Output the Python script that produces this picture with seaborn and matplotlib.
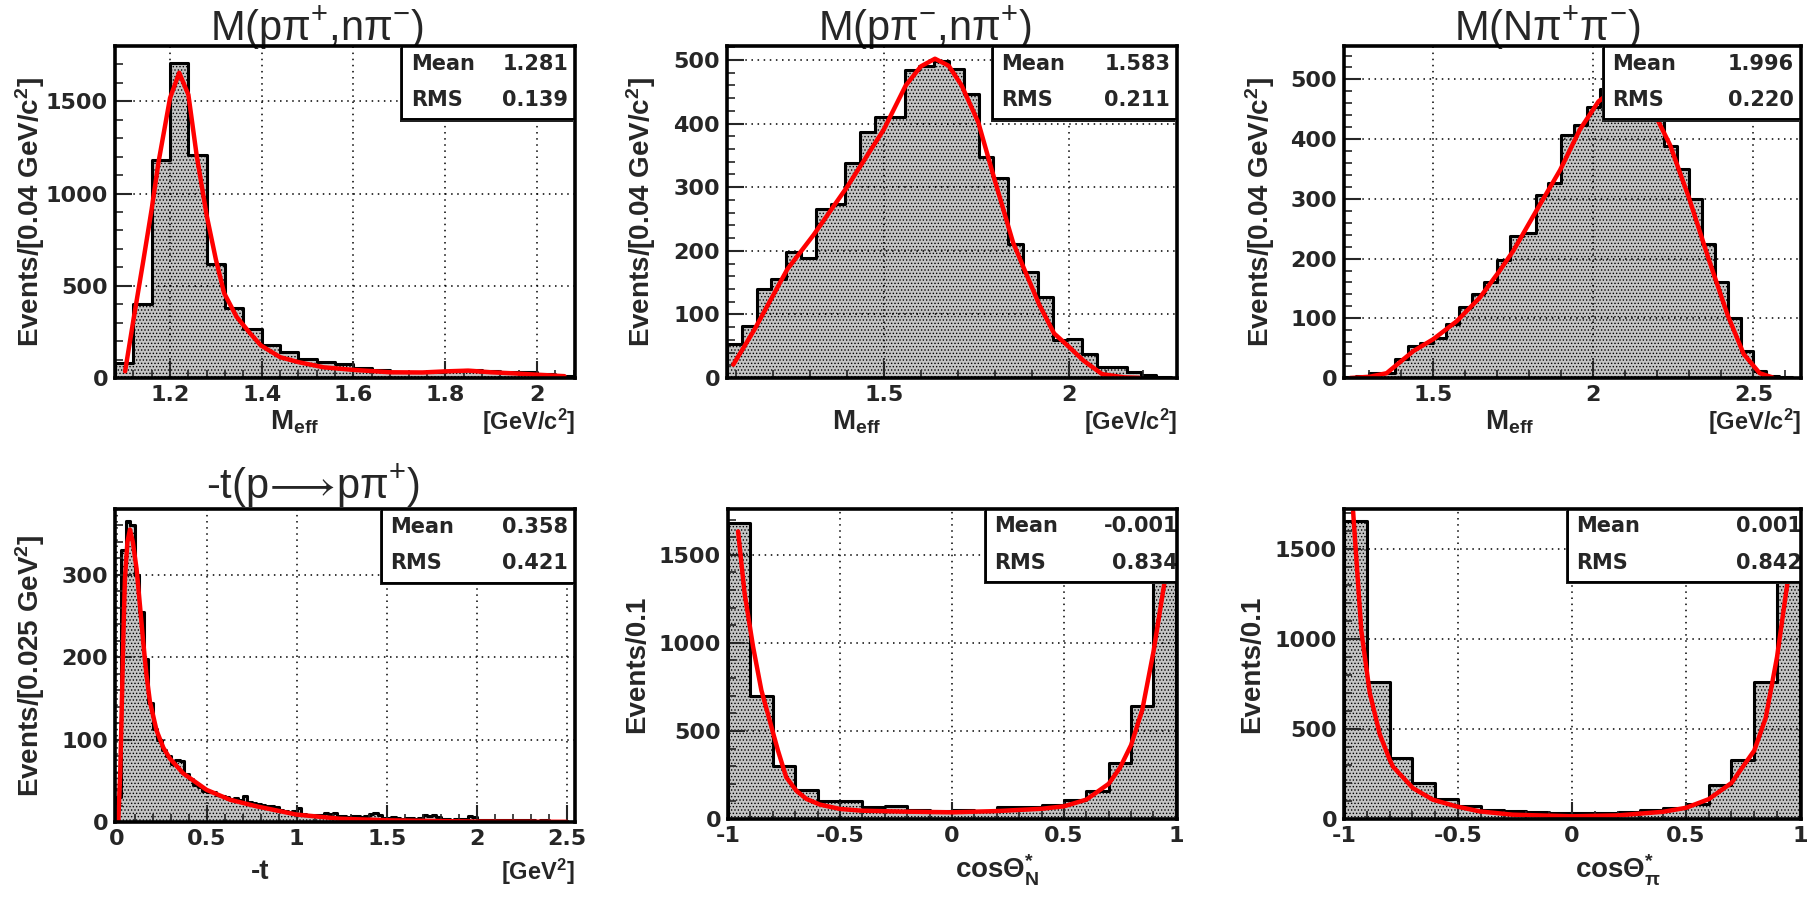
import numpy as np
import pandas as pd
import matplotlib
matplotlib.use("Agg")
import matplotlib.pyplot as plt
import matplotlib.transforms as mtransforms
from matplotlib.patches import Rectangle
from matplotlib.ticker import FixedLocator, AutoMinorLocator, FuncFormatter
import seaborn as sns

# ---------------- data ----------------
# M(p pi+, n pi-)
m1_lo, m1_bin = 1.08, 0.04
m1_counts = [82, 400, 1180, 1710, 1210, 620, 380, 265, 180, 140, 105, 85, 78,
             55, 42, 35, 32, 30, 38, 42, 40, 35, 30, 20, 12]
m1_fit_x = [1.102, 1.12, 1.142, 1.16, 1.175, 1.20, 1.22, 1.24, 1.258, 1.28, 1.30,
            1.318, 1.345, 1.375, 1.398, 1.44, 1.48, 1.535, 1.60, 1.68, 1.75, 1.80,
            1.85, 1.90, 1.95, 2.00, 2.06]
m1_fit_y = [36, 312, 640, 916, 1172, 1518, 1655, 1536, 1208, 880, 642, 460, 332,
            241, 177, 113, 86, 58, 44, 31, 30, 36, 40, 31, 25, 18, 10]
m1_mean, m1_rms = "1.281", "0.139"

# M(p pi-, n pi+)
m2_lo, m2_bin = 1.076, 0.04
m2_counts = [54, 82, 140, 156, 198, 189, 266, 274, 338, 387, 411, 411, 484, 490,
             498, 486, 446, 347, 314, 210, 166, 128, 59, 62, 37, 17, 17, 10, 5, 2]
m2_fit_x = [1.093, 1.15, 1.239, 1.31, 1.40, 1.50, 1.559, 1.60, 1.638, 1.675, 1.71,
            1.755, 1.799, 1.849, 1.88, 1.92, 1.96, 2.00, 2.04, 2.09, 2.15, 2.19]
m2_fit_y = [21, 76, 171, 225, 300, 391, 460, 490, 502, 491, 460, 402, 312, 213,
            170, 115, 70, 49, 27, 6, 1, 0.3]
m2_mean, m2_rms = "1.583", "0.211"

# M(N pi+ pi-)
m3_lo, m3_bin = 1.22, 0.04
m3_counts = [2, 3, 8, 8, 31, 53, 59, 67, 90, 119, 140, 160, 197, 237, 242, 306,
             327, 407, 424, 454, 484, 487, 478, 470, 440, 388, 350, 300, 225, 160,
             100, 45, 12, 3, 1]
m3_fit_x = [1.24, 1.30, 1.354, 1.4375, 1.50, 1.573, 1.646, 1.708, 1.75, 1.823,
            1.896, 1.958, 2.016, 2.08, 2.12, 2.18, 2.24, 2.30, 2.36, 2.42, 2.47,
            2.52, 2.56]
m3_fit_y = [0, 2, 8, 45, 65, 95, 135, 180, 213, 281, 348, 416, 463, 490, 485, 455,
            390, 300, 200, 105, 40, 8, 1]
m3_mean, m3_rms = "1.996", "0.220"

# -t(p -> p pi+)
t_lo, t_bin = 0.0, 0.025
t_counts = [30, 330, 365, 360, 300, 255, 198, 145, 113, 99,
            88, 80, 70, 75, 74, 58, 52, 45, 42, 38,
            37, 36, 33, 32, 30, 28, 29, 27, 31, 24,
            23, 22, 21, 19, 20, 18, 14, 13, 12, 13,
            17, 10, 9, 9, 8, 9, 11, 10, 11, 7,
            7, 6, 7, 7, 6, 7, 10, 11, 9, 5,
            5, 6, 5, 4, 5, 5, 4, 5, 8, 7,
            8, 6, 4, 4, 3, 4, 4, 4, 7, 6,
            3, 3, 3, 2, 3, 3, 2, 3, 2, 2,
            2, 2, 2, 1, 2, 2, 1, 1, 1, 1]
t_fit_x = [0.009, 0.02, 0.028, 0.038, 0.046, 0.06, 0.074, 0.09, 0.111, 0.13, 0.148,
           0.165, 0.185, 0.222, 0.26, 0.296, 0.37, 0.5, 0.63, 0.778, 1.0, 1.24,
           1.52, 2.0, 2.5]
t_fit_y = [0, 60, 134, 230, 295, 340, 355, 340, 307, 262, 218, 180, 146, 111, 90,
           77, 59, 39, 27, 19, 9, 4, 2, 0.5, 0.2]
t_mean, t_rms = "0.358", "0.421"

# cos Theta*_N
cn_lo, cn_bin = -1.0, 0.1
cn_counts = [1680, 699, 300, 165, 104, 100, 70, 76, 53, 47, 53, 47, 70, 70, 80,
             110, 160, 320, 640, 1350]
cn_fit_x = [-0.955, -0.926, -0.888, -0.851, -0.814, -0.777, -0.74, -0.695, -0.65,
            -0.59, -0.5, -0.4, -0.22, 0.0, 0.2, 0.4, 0.5, 0.6, 0.7, 0.75, 0.8,
            0.85, 0.9, 0.95, 0.975]
cn_fit_y = [1633, 1282, 978, 731, 560, 389, 237, 161, 114, 82, 57, 47, 42, 38, 45,
            58, 72, 110, 200, 290, 420, 620, 950, 1350, 1620]
cn_mean, cn_rms = "-0.001", "0.834"

# cos Theta*_pi
cp_lo, cp_bin = -1.0, 0.1
cp_counts = [1651, 759, 336, 199, 110, 74, 51, 42, 37, 33, 33, 35, 40, 50, 62, 85,
             190, 330, 760, 1340]
cp_fit_x = [-0.96, -0.924, -0.887, -0.843, -0.80, -0.785, -0.697, -0.61, -0.507,
            -0.404, -0.26, 0.0, 0.2, 0.4, 0.5, 0.6, 0.7, 0.8, 0.85, 0.9, 0.95, 0.975]
cp_fit_y = [1706, 1044, 700, 470, 330, 290, 171, 107, 70, 42, 24, 15, 20, 40, 62,
            110, 200, 380, 560, 900, 1350, 1700]
cp_mean, cp_rms = "0.001", "0.842"

# ---------------- style ----------------
sns.set_style("white")
plt.rcParams["font.family"] = ["Liberation Sans", "DejaVu Sans"]
plt.rcParams["mathtext.fontset"] = "custom"
plt.rcParams["mathtext.rm"] = "Liberation Sans"
plt.rcParams["mathtext.bf"] = "Liberation Sans:bold"
plt.rcParams["mathtext.it"] = "Liberation Sans:italic"
plt.rcParams["mathtext.default"] = "regular"
plt.rcParams["hatch.linewidth"] = 0.6
plt.rcParams["hatch.color"] = "#303030"

W, H = 1814, 897
fig = plt.figure(figsize=(W / 100, H / 100), dpi=100)


def axes_at(x0, y0, x1, y1):
    return fig.add_axes([x0 / W, 1 - y1 / H, (x1 - x0) / W, (y1 - y0) / H])


panels = [
    dict(box=(115, 46, 575, 378), lo=m1_lo, bw=m1_bin, counts=m1_counts,
         fx=m1_fit_x, fy=m1_fit_y, mean=m1_mean, rms=m1_rms,
         xlim=(1.08, 2.083), ylim=(0, 1800), xt=[1.2, 1.4, 1.6, 1.8, 2.0],
         yt=[0, 500, 1000, 1500], title="M(pπ$^{+}$,nπ$^{-}$)", tx=0.44, ty=1.018,
         ylabel="Events/[0.04 GeV/c$^{\\mathbf{2}}$]", ylx=-68,
         xl="M$_{\\mathbf{eff}}$", xlx=0.39, xr="[GeV/c$^{\\mathbf{2}}$]", xly=-0.133,
         bx=0.625, top=True),
    dict(box=(727, 46, 1177, 378), lo=m2_lo, bw=m2_bin, counts=m2_counts,
         fx=m2_fit_x, fy=m2_fit_y, mean=m2_mean, rms=m2_rms,
         xlim=(1.076, 2.292), ylim=(0, 522), xt=[1.5, 2.0],
         yt=[0, 100, 200, 300, 400, 500], title="M(pπ$^{-}$,nπ$^{+}$)", tx=0.44, ty=1.018,
         ylabel="Events/[0.04 GeV/c$^{\\mathbf{2}}$]", ylx=-69,
         xl="M$_{\\mathbf{eff}}$", xlx=0.287, xr="[GeV/c$^{\\mathbf{2}}$]", xly=-0.133,
         bx=0.591, top=True),
    dict(box=(1344, 46, 1801, 378), lo=m3_lo, bw=m3_bin, counts=m3_counts,
         fx=m3_fit_x, fy=m3_fit_y, mean=m3_mean, rms=m3_rms,
         xlim=(1.221, 2.649), ylim=(0, 556), xt=[1.5, 2.0, 2.5],
         yt=[0, 100, 200, 300, 400, 500], title="M(Nπ$^{+}$π$^{-}$)", tx=0.445, ty=1.018,
         ylabel="Events/[0.04 GeV/c$^{\\mathbf{2}}$]", ylx=-67,
         xl="M$_{\\mathbf{eff}}$", xlx=0.363, xr="[GeV/c$^{\\mathbf{2}}$]", xly=-0.133,
         bx=0.569, top=True),
    dict(box=(115, 509, 575, 822), lo=t_lo, bw=t_bin, counts=t_counts,
         fx=t_fit_x, fy=t_fit_y, mean=t_mean, rms=t_rms,
         xlim=(-0.009, 2.546), ylim=(0, 380), xt=[0, 0.5, 1.0, 1.5, 2.0, 2.5],
         yt=[0, 100, 200, 300], title="-t(p$\\!\\longrightarrow\\!$pπ$^{+}$)",
         tx=0.43, ty=1.035,
         ylabel="Events/[0.025 GeV$^{\\mathbf{2}}$]", ylx=-68,
         xl="-t", xlx=0.315, xr="[GeV$^{\\mathbf{2}}$]", xly=-0.16,
         bx=0.58, top=False),
    dict(box=(728, 509, 1177, 819), lo=cn_lo, bw=cn_bin, counts=cn_counts,
         fx=cn_fit_x, fy=cn_fit_y, mean=cn_mean, rms=cn_rms,
         xlim=(-1.0, 1.005), ylim=(0, 1760), xt=[-1, -0.5, 0, 0.5, 1],
         yt=[0, 500, 1000, 1500], title=None,
         ylabel="Events/0.1", ylx=-78,
         xl="cosΘ$^{*}_{\\mathbf{N}}$", xlx=0.6, xr=None, xly=-0.165,
         bx=0.575, top=False),
    dict(box=(1344, 509, 1801, 819), lo=cp_lo, bw=cp_bin, counts=cp_counts,
         fx=cp_fit_x, fy=cp_fit_y, mean=cp_mean, rms=cp_rms,
         xlim=(-1.0, 1.005), ylim=(0, 1720), xt=[-1, -0.5, 0, 0.5, 1],
         yt=[0, 500, 1000, 1500], title=None,
         ylabel="Events/0.1", ylx=-79,
         xl="cosΘ$^{*}_{π}$", xlx=0.6, xr=None, xly=-0.165,
         bx=0.49, top=False),
]

fmt = FuncFormatter(lambda v, p: "%g" % v)

for P in panels:
    ax = axes_at(*P["box"])
    axw = P["box"][2] - P["box"][0]
    counts = [float(c) for c in P["counts"]]
    edges = [float(P["lo"] + P["bw"] * k) for k in range(len(counts) + 1)]
    centers = [0.5 * (edges[k] + edges[k + 1]) for k in range(len(counts))]
    df = pd.DataFrame({"x": centers, "w": counts})
    sns.histplot(data=df, x="x", weights="w", bins=edges, element="step", fill=True,
                 color="#c4c4c4", alpha=1.0, edgecolor="black", linewidth=2.2, ax=ax)
    for coll in ax.collections:
        coll.set_hatch(".....")
        coll.set_zorder(1)
    fit = pd.DataFrame({"x": P["fx"], "y": P["fy"]})
    sns.lineplot(data=fit, x="x", y="y", color="red", linewidth=3.2, ax=ax,
                 zorder=4, sort=True)

    ax.set_xlim(*P["xlim"])
    ax.set_ylim(*P["ylim"])
    ax.xaxis.set_major_locator(FixedLocator(P["xt"]))
    ax.yaxis.set_major_locator(FixedLocator(P["yt"]))
    ax.xaxis.set_major_formatter(fmt)
    ax.yaxis.set_major_formatter(fmt)
    ax.xaxis.set_minor_locator(AutoMinorLocator(5))
    ax.yaxis.set_minor_locator(AutoMinorLocator(5))
    ax.tick_params(which="major", direction="in", length=12, width=1.5, pad=5,
                   top=False, right=False, bottom=True, left=True, labelsize=16)
    ax.tick_params(which="minor", direction="in", length=6, width=1.2,
                   top=False, right=False, bottom=True, left=True)
    for lab in ax.get_xticklabels() + ax.get_yticklabels():
        lab.set_fontfamily("DejaVu Sans")
        lab.set_fontweight("bold")
    ax.grid(True, which="major", color="black", linestyle=(0, (1, 3)), linewidth=1.1)
    ax.set_axisbelow(False)
    for sp in ax.spines.values():
        sp.set_linewidth(2.6)
        sp.set_color("black")
        sp.set_zorder(10)

    ax.set_xlabel("")
    ax.set_ylabel(P["ylabel"], fontsize=20, fontweight="bold")
    ax.yaxis.set_label_coords(P["ylx"] / axw, 0.5)

    if P["title"]:
        ax.text(P["tx"], P["ty"], P["title"], transform=ax.transAxes, ha="center",
                va="baseline", fontsize=30)
    ax.text(P["xlx"], P["xly"], P["xl"], transform=ax.transAxes, ha="center",
            va="center", fontsize=20, fontweight="bold")
    if P["xr"]:
        ax.text(1.0, P["xly"], P["xr"], transform=ax.transAxes, ha="right",
                va="center", fontsize=17, fontweight="bold")

    # statistics box
    bh = 0.22 if P["top"] else 0.235
    bx = P["bx"]
    shadow_tr = mtransforms.offset_copy(ax.transAxes, fig=fig, x=-2, y=-2.5, units="dots")
    ax.add_patch(Rectangle((bx, 1 - bh), 1 - bx, bh, transform=shadow_tr,
                           facecolor="#202020", edgecolor="none", zorder=7, clip_on=False))
    ax.add_patch(Rectangle((bx, 1 - bh), 1 - bx, bh, transform=ax.transAxes,
                           facecolor="white", edgecolor="black", linewidth=1.4,
                           zorder=8, clip_on=False))
    y1 = 1 - bh * 0.24
    y2 = 1 - bh * 0.74
    vx = 1.003 if P["mean"] in ("-0.001", "0.001") else 0.985
    for yy, name, val in ((y1, "Mean", P["mean"]), (y2, "RMS", P["rms"])):
        ax.text(bx + 0.018, yy, name, transform=ax.transAxes, ha="left", va="center",
                fontsize=15, fontweight="bold", family="DejaVu Sans", zorder=9)
        ax.text(vx, yy, val, transform=ax.transAxes, ha="right", va="center",
                fontsize=15, fontweight="bold", family="DejaVu Sans", zorder=9)

fig.savefig("out.png", dpi=100)
